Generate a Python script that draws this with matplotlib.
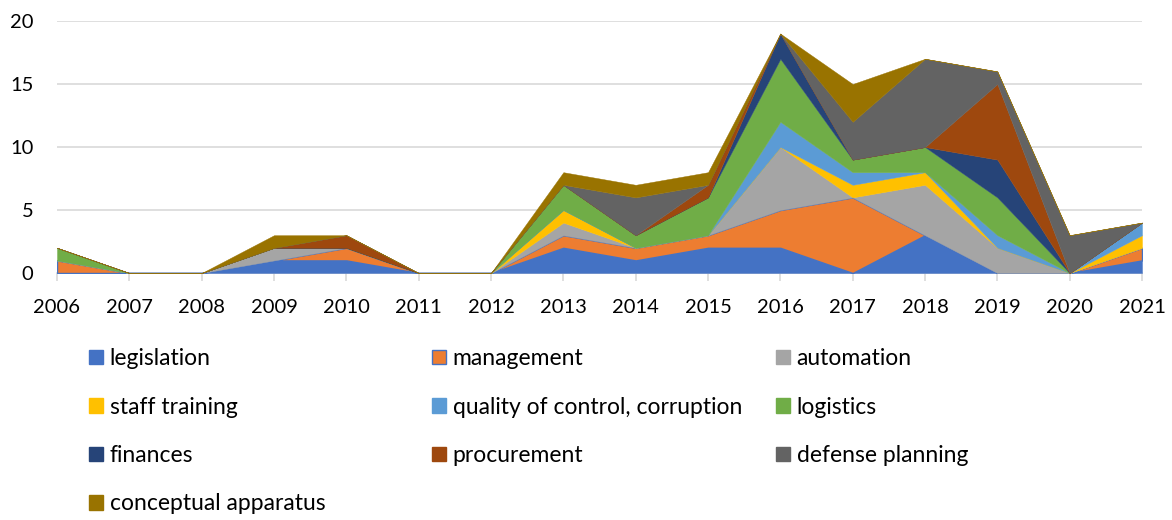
import matplotlib
matplotlib.use("Agg")
import matplotlib.pyplot as plt
from matplotlib.patches import Patch
import numpy as np

years = list(range(2006, 2022))
series_names = ["legislation", "management", "automation", "staff training",
                "quality of control, corruption", "logistics", "finances",
                "procurement", "defense planning", "conceptual apparatus"]
legislation      = [0, 0, 0, 1, 1, 0, 0, 2, 1, 2, 2, 0, 3, 0, 0, 1]
management       = [1, 0, 0, 0, 1, 0, 0, 1, 1, 1, 3, 6, 0, 0, 0, 1]
automation       = [0, 0, 0, 1, 0, 0, 0, 1, 0, 0, 5, 0, 4, 2, 0, 0]
staff_training   = [0, 0, 0, 0, 0, 0, 0, 1, 0, 0, 0, 1, 1, 0, 0, 1]
quality_control  = [0, 0, 0, 0, 0, 0, 0, 0, 0, 0, 2, 1, 0, 1, 0, 1]
logistics        = [1, 0, 0, 0, 0, 0, 0, 2, 1, 3, 5, 1, 2, 3, 0, 0]
finances         = [0, 0, 0, 0, 0, 0, 0, 0, 0, 0, 2, 0, 0, 3, 0, 0]
procurement      = [0, 0, 0, 0, 1, 0, 0, 0, 0, 1, 0, 0, 0, 6, 0, 0]
defense_planning = [0, 0, 0, 0, 0, 0, 0, 0, 3, 0, 0, 3, 7, 1, 3, 0]
conceptual       = [0, 0, 0, 1, 0, 0, 0, 1, 1, 1, 0, 3, 0, 0, 0, 0]
colors = ["#4472C4", "#ED7D31", "#A5A5A5", "#FFC000", "#5B9BD5", "#70AD47",
          "#264478", "#9E480E", "#636363", "#997300"]

data = [legislation, management, automation, staff_training, quality_control,
        logistics, finances, procurement, defense_planning, conceptual]

plt.rcParams['font.family'] = ['Lato', 'DejaVu Sans']
fig = plt.figure(figsize=(11.72, 5.2), dpi=100)
ax = fig.add_axes([57/1172, (520-273)/520, (1142-57)/1172, (273-21)/520])

polys = ax.stackplot(years, *data, colors=colors, linewidth=0, labels=series_names)
for i, p in enumerate(polys):
    if i == 1:
        p.set_edgecolor("#4472C4")
        p.set_linewidth(1.0)
    else:
        p.set_edgecolor(colors[i])
        p.set_linewidth(0.3)

ax.set_xlim(2006, 2021)
ax.set_ylim(0, 20)
ax.set_yticks([0, 5, 10, 15, 20])
ax.set_xticks(years)
ax.grid(axis='y', color='#D9D9D9', linewidth=1.2)
ax.set_axisbelow(True)
for s in ['left', 'right', 'top']:
    ax.spines[s].set_visible(False)
ax.spines['bottom'].set_color('#D9D9D9')
ax.spines['bottom'].set_linewidth(1.2)
ax.spines['bottom'].set_zorder(0)
ax.tick_params(axis='y', length=0, labelsize=14.5, pad=17)
ax.tick_params(axis='x', length=6, color='#D9D9D9', width=1.2, labelsize=14.5, pad=13)

handles = [Patch(facecolor=c, edgecolor=("#4472C4" if i == 1 else c), linewidth=1.0)
           for i, c in enumerate(colors)]
cols = [[0, 3, 6, 9], [1, 4, 7], [2, 5, 8]]
xs = [89, 432, 776]
for xi, idx in zip(xs, cols):
    leg = fig.legend([handles[i] for i in idx], [series_names[i] for i in idx],
                     loc='upper left', bbox_to_anchor=(xi/1172, 1 - 348/520),
                     frameon=False, fontsize=16.5, handlelength=0.6, handleheight=0.6,
                     handletextpad=0.3, labelspacing=1.2, borderpad=0, borderaxespad=0)

fig.savefig("out.png", dpi=100)
